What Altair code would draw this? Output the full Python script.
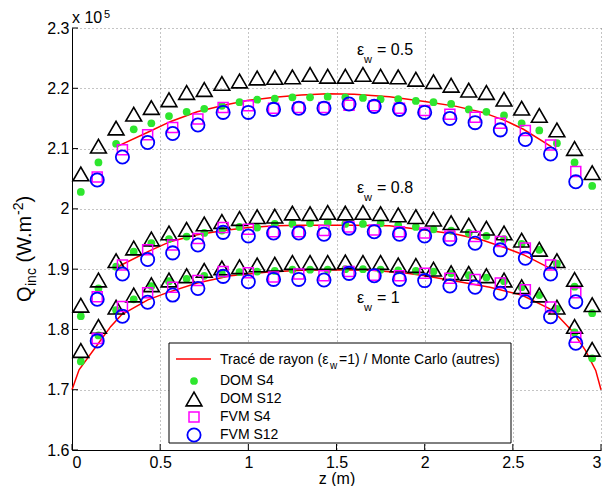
import altair as alt
import pandas as pd

# ---------------- data (Q in units of 1e5 W.m^-2) ----------------
z_dom = [0.05, 0.15, 0.25, 0.35, 0.45, 0.55, 0.65, 0.75, 0.85, 0.95,
         1.05, 1.15, 1.25, 1.35, 1.45, 1.55, 1.65, 1.75, 1.85, 1.95,
         2.05, 2.15, 2.25, 2.35, 2.45, 2.55, 2.65, 2.75, 2.85, 2.95]
z_fvm = [0.143, 0.286, 0.429, 0.571, 0.714, 0.857, 1.0, 1.143, 1.286, 1.429,
         1.571, 1.714, 1.857, 2.0, 2.143, 2.286, 2.429, 2.571, 2.714, 2.857]

# eps_w = 0.5
dom12_05 = [2.058, 2.104, 2.134, 2.157, 2.168, 2.181, 2.193, 2.198, 2.208, 2.212,
            2.217, 2.218, 2.219, 2.223, 2.220, 2.220, 2.223, 2.220, 2.219, 2.215,
            2.211, 2.205, 2.197, 2.193, 2.182, 2.167, 2.155, 2.131, 2.100, 2.060]
dom4_05 = [2.028, 2.077, 2.108, 2.132, 2.142, 2.154, 2.161, 2.166, 2.171, 2.177,
           2.181, 2.183, 2.185, 2.185, 2.186, 2.185, 2.184, 2.182, 2.182, 2.179,
           2.177, 2.174, 2.165, 2.161, 2.155, 2.142, 2.130, 2.109, 2.077, 2.038]
fvm4_05 = [2.053, 2.098, 2.123, 2.135, 2.149, 2.168, 2.171, 2.167, 2.168, 2.168,
           2.172, 2.171, 2.167, 2.163, 2.157, 2.152, 2.142, 2.130, 2.106, 2.062]
fvm12_05 = [2.048, 2.086, 2.110, 2.125, 2.139, 2.160, 2.160, 2.165, 2.167, 2.167,
            2.174, 2.170, 2.165, 2.160, 2.150, 2.143, 2.131, 2.115, 2.091, 2.045]
z_mc = [0.26, 0.43, 0.56, 0.71, 0.86, 1.0, 1.15, 1.3, 1.45, 1.6, 1.8, 2.0,
        2.18, 2.33, 2.46, 2.56, 2.72]
mc_05 = [2.104, 2.127, 2.145, 2.161, 2.172, 2.180, 2.185, 2.189, 2.191, 2.190,
         2.186, 2.178, 2.170, 2.160, 2.146, 2.132, 2.103]

# eps_w = 0.8
dom12_08 = [1.840, 1.882, 1.914, 1.935, 1.950, 1.960, 1.966, 1.975, 1.979, 1.984,
            1.987, 1.988, 1.993, 1.992, 1.994, 1.993, 1.994, 1.992, 1.990, 1.987,
            1.983, 1.977, 1.973, 1.968, 1.960, 1.948, 1.933, 1.914, 1.883, 1.841]
dom4_08 = [1.822, 1.868, 1.904, 1.929, 1.943, 1.950, 1.954, 1.960, 1.964, 1.970,
           1.969, 1.975, 1.975, 1.976, 1.977, 1.975, 1.975, 1.976, 1.973, 1.970,
           1.966, 1.964, 1.960, 1.955, 1.950, 1.942, 1.932, 1.909, 1.871, 1.827]
fvm4_08 = [1.854, 1.907, 1.932, 1.940, 1.951, 1.969, 1.966, 1.962, 1.962, 1.964,
           1.970, 1.965, 1.962, 1.960, 1.955, 1.954, 1.946, 1.935, 1.907, 1.861]
fvm12_08 = [1.850, 1.892, 1.916, 1.927, 1.940, 1.961, 1.955, 1.960, 1.960, 1.958,
            1.968, 1.962, 1.958, 1.955, 1.950, 1.943, 1.932, 1.918, 1.892, 1.846]
mc_08 = [1.904, 1.929, 1.946, 1.957, 1.964, 1.969, 1.972, 1.973, 1.973, 1.973,
         1.972, 1.965, 1.958, 1.948, 1.935, 1.924, 1.900]

# eps_w = 1
dom12_1 = [1.765, 1.805, 1.837, 1.857, 1.874, 1.882, 1.889, 1.898, 1.902, 1.904,
           1.907, 1.908, 1.911, 1.911, 1.911, 1.912, 1.911, 1.911, 1.907, 1.906,
           1.900, 1.894, 1.893, 1.889, 1.882, 1.871, 1.857, 1.837, 1.805, 1.767]
dom4_1 = [1.747, 1.790, 1.832, 1.850, 1.872, 1.880, 1.884, 1.889, 1.892, 1.895,
          1.896, 1.897, 1.899, 1.899, 1.899, 1.900, 1.900, 1.899, 1.898, 1.897,
          1.896, 1.893, 1.890, 1.886, 1.880, 1.870, 1.857, 1.834, 1.795, 1.752]
fvm4_1 = [1.785, 1.838, 1.861, 1.870, 1.881, 1.896, 1.894, 1.887, 1.892, 1.889,
          1.896, 1.890, 1.889, 1.893, 1.885, 1.883, 1.877, 1.866, 1.837, 1.787]
fvm12_1 = [1.781, 1.822, 1.845, 1.857, 1.868, 1.888, 1.879, 1.883, 1.883, 1.882,
           1.893, 1.889, 1.883, 1.881, 1.872, 1.870, 1.860, 1.846, 1.821, 1.777]
z_rt = [0, 0.04, 0.15, 0.22, 0.28, 0.43, 0.54, 0.71, 0.9, 1.1, 1.3, 1.5, 1.7,
        1.9, 2.0, 2.18, 2.37, 2.55, 2.71, 2.76, 2.84, 2.91, 2.97, 3.0]
rt_1 = [1.700, 1.733, 1.777, 1.805, 1.824, 1.849, 1.861, 1.877, 1.889, 1.895,
        1.898, 1.899, 1.898, 1.893, 1.889, 1.880, 1.870, 1.857, 1.834, 1.821,
        1.796, 1.766, 1.732, 1.700]

x_ticks = [0, 0.5, 1, 1.5, 2, 2.5, 3]
y_ticks = [1.6, 1.7, 1.8, 1.9, 2.0, 2.1, 2.2, 2.3]

legend_labels = ["DOM S4", "DOM S12", "FVM S4", "FVM S12"]

# ---------------- tables ----------------
def series(zs, qs, method, eps):
    return pd.DataFrame({"z": zs, "Q": qs, "method": method, "eps": eps})

df = pd.concat([
    series(z_mc, mc_05, "ref", "0.5"), series(z_mc, mc_08, "ref", "0.8"),
    series(z_rt, rt_1, "ref", "1"),
    series(z_dom, dom4_05, "DOM S4", "0.5"), series(z_dom, dom4_08, "DOM S4", "0.8"),
    series(z_dom, dom4_1, "DOM S4", "1"),
    series(z_dom, dom12_05, "DOM S12", "0.5"), series(z_dom, dom12_08, "DOM S12", "0.8"),
    series(z_dom, dom12_1, "DOM S12", "1"),
    series(z_fvm, fvm4_05, "FVM S4", "0.5"), series(z_fvm, fvm4_08, "FVM S4", "0.8"),
    series(z_fvm, fvm4_1, "FVM S4", "1"),
    series(z_fvm, fvm12_05, "FVM S12", "0.5"), series(z_fvm, fvm12_08, "FVM S12", "0.8"),
    series(z_fvm, fvm12_1, "FVM S12", "1"),
], ignore_index=True)

FONT = "Liberation Sans"
W, H = 529, 422

X = alt.X("z:Q", scale=alt.Scale(domain=[0, 3], nice=False, zero=False),
          axis=alt.Axis(values=x_ticks, format="~g", title="z (m)", grid=True,
                        ticks=False, labelPadding=4, titlePadding=0))
Y = alt.Y("Q:Q", scale=alt.Scale(domain=[1.6, 2.3], nice=False, zero=False),
          axis=alt.Axis(values=y_ticks, format=".2~g", title=None, grid=True,
                        ticks=False, labelPadding=3))

base = alt.Chart(df)

red = base.transform_filter(alt.datum.method == "ref").mark_line(
    color="#ff0000", strokeWidth=1.5).encode(x=X, y=Y, detail="eps:N")
green = base.transform_filter(alt.datum.method == "DOM S4").mark_circle(
    color="#2ee62e", size=60, opacity=1).encode(x=X, y=Y)
tri = base.transform_filter(alt.datum.method == "DOM S12").mark_point(
    shape="triangle-up", size=250, color="black", strokeWidth=1.6, filled=False,
    opacity=1).encode(x=X, y=Y)
sq = base.transform_filter(alt.datum.method == "FVM S4").mark_point(
    shape="square", size=100, color="#ff00ff", strokeWidth=1.5, filled=False,
    opacity=1).encode(x=X, y=Y)
circ = base.transform_filter(alt.datum.method == "FVM S12").mark_point(
    shape="circle", size=175, color="#0000ff", strokeWidth=1.8, filled=False,
    opacity=1).encode(x=X, y=Y)

# inward ticks
xt = alt.Chart(pd.DataFrame({"z": x_ticks})).mark_rule(color="black").encode(
    x=X, y=alt.value(H), y2=alt.value(H - 6))
yt = alt.Chart(pd.DataFrame({"Q": y_ticks})).mark_rule(color="black").encode(
    y=Y, x=alt.value(0), x2=alt.value(6))

one = pd.DataFrame({"a": [0]})


def txt(s, x, y, size, align="left", baseline="alphabetic", angle=0, dy=0):
    props = dict(text=s, font=FONT, fontSize=size, align=align,
                 baseline=baseline, color="black")
    if angle:
        props["angle"] = angle
    if dy:
        props["dy"] = dy
    return alt.Chart(one).mark_text(**props).encode(x=alt.value(x), y=alt.value(y))


annots = []
for lab, yb in [("0.5", 27), ("0.8", 165), ("1", 275)]:
    annots += [txt("ε", 285, yb, 16), txt("w", 292, yb + 8, 11),
               txt("= " + lab, 305, yb, 16)]

# x 10^5
annots += [txt("x 10", 0, -5, 16), txt("5", 32, -10.5, 11)]

# y title (rotated)
yx = -41
annots += [
    txt("Q", yx, 274, 20, angle=270),
    txt("inc", yx, 258, 14, angle=270, dy=5),
    txt("(W.m", yx, 234.5, 20, angle=270),
    txt("-2", yx, 187, 14, angle=270, dy=-8),
    txt(")", yx, 174.5, 20, angle=270),
]

# legend
leg = [
    alt.Chart(one).mark_rect(fill="white", stroke="black", strokeWidth=1).encode(
        x=alt.value(97), x2=alt.value(439), y=alt.value(315), y2=alt.value(415)),
    alt.Chart(one).mark_rule(color="#ff0000", strokeWidth=1.5).encode(
        x=alt.value(104), x2=alt.value(139), y=alt.value(331)),
    alt.Chart(one).mark_circle(color="#2ee62e", size=60, opacity=1).encode(
        x=alt.value(122), y=alt.value(353)),
    alt.Chart(one).mark_point(shape="triangle-up", size=250, color="black",
                              strokeWidth=1.6, opacity=1).encode(
        x=alt.value(122), y=alt.value(371)),
    alt.Chart(one).mark_point(shape="square", size=100, color="#ff00ff",
                              strokeWidth=1.5, opacity=1).encode(
        x=alt.value(122), y=alt.value(389)),
    alt.Chart(one).mark_point(shape="circle", size=175, color="#0000ff",
                              strokeWidth=1.8, opacity=1).encode(
        x=alt.value(122), y=alt.value(407)),
    txt("Tracé de rayon (ε", 148, 336, 14),
    txt("w", 258, 341, 10),
    txt("=1) / Monte Carlo (autres)", 267, 336, 14),
]
for i, lab in enumerate(legend_labels):
    leg.append(txt(lab, 148, 353 + 18 * i, 14, baseline="middle"))

chart = alt.layer(red, green, tri, sq, circ, xt, yt, *annots, *leg).properties(
    width=W, height=H,
    autosize=alt.AutoSizeParams(type="none"),
    padding={"left": 64, "top": 20, "right": 4, "bottom": 36},
).configure_view(stroke=None).configure_axis(
    domainColor="black", domainWidth=1, gridColor="#8a8a8a", gridDash=[1, 3],
    gridOpacity=1, gridWidth=1, labelFont=FONT, labelFontSize=16,
    labelColor="black", titleFont=FONT, titleFontSize=16,
    titleFontWeight="normal", titleColor="black",
)

chart.save("out.html", embed_options={"renderer": "svg", "actions": False})
